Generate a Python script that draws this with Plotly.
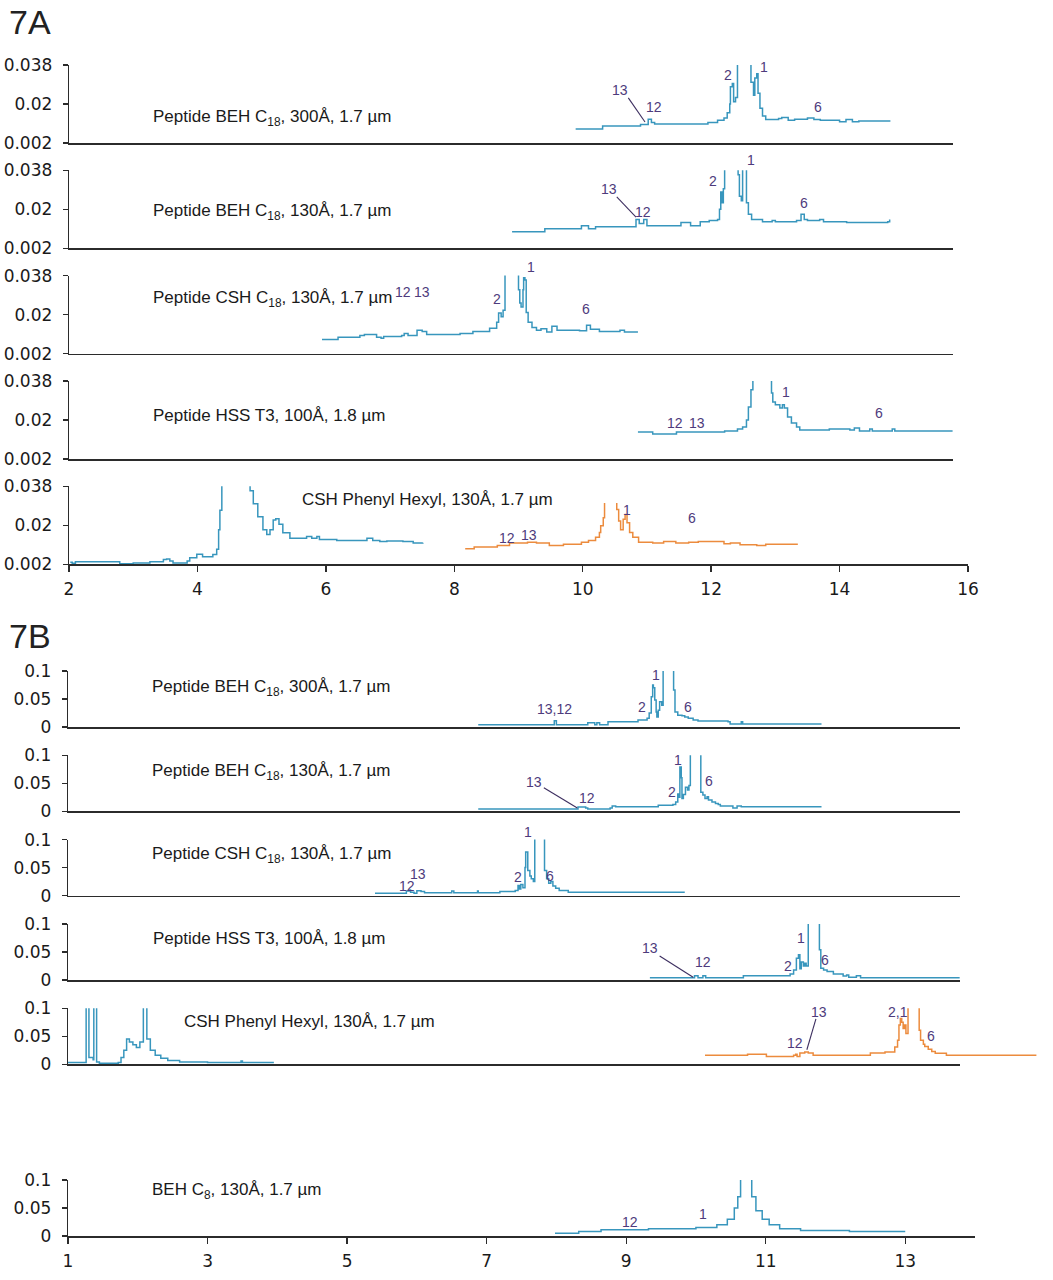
import plotly.graph_objects as go

W, H = 1053, 1280
CYAN = '#3896bd'
ORANGE = '#ec8b3d'
PURPLE = '#4e3b7c'
AXC = '#2b2b2b'
LBL_FONT = dict(family='Liberation Sans, Arial', size=17, color='#1a1a1a')
PK_FONT = dict(family='Liberation Sans, Arial', size=14, color=PURPLE)
TICK_FONT = dict(family='DejaVu Sans, Verdana', size=17, color='#1a1a1a')

# ---------------- 7A data (time min, absorbance AU) ----------------
a1_t = [9.89, 10.31, 10.7, 10.9, 11.02, 11.07, 11.12, 11.8, 11.95, 12.1, 12.2, 12.25, 12.29, 12.3, 12.33, 12.35, 12.38, 12.41, 12.6, 12.62, 12.66, 12.68, 12.71, 12.73, 12.76, 12.8, 12.85, 13.05, 13.1, 13.2, 13.3, 13.5, 13.6, 13.7, 13.8, 14.0, 14.1, 14.2, 14.3, 14.78]
a1_v = [.0085, .0098, .0098, .0105, .013, .0115, .0108, .0108, .0115, .0125, .0135, .016, .020, .028, .0295, .021, .023, .060, .060, .030, .024, .032, .034, .025, .018, .0145, .0128, .0133, .0138, .0125, .0130, .0135, .0128, .0125, .0125, .0118, .0128, .0118, .0122, .0118]

a2_t = [8.90, 9.41, 9.98, 10.09, 10.2, 10.83, 10.88, 10.95, 11.0, 11.53, 11.68, 11.83, 11.97, 12.1, 12.13, 12.15, 12.17, 12.19, 12.21, 12.40, 12.42, 12.44, 12.47, 12.49, 12.53, 12.55, 12.58, 12.63, 12.80, 12.95, 13.0, 13.18, 13.33, 13.4, 13.45, 13.5, 13.69, 13.75, 14.11, 14.75, 14.78]
a2_v = [.0096, .011, .0124, .011, .012, .0153, .0135, .0153, .0124, .0139, .0124, .0142, .0148, .0153, .020, .028, .023, .0295, .06, .06, .036, .026, .024, .06, .06, .023, .0177, .0153, .0143, .0148, .0143, .0143, .0148, .0177, .0153, .0148, .0153, .0143, .0139, .0142, .0153]

a3_t = [5.94, 6.19, 6.53, 6.6, 6.79, 6.86, 6.9, 7.18, 7.22, 7.28, 7.42, 7.5, 7.57, 8.09, 8.29, 8.55, 8.66, 8.69, 8.73, 8.76, 8.79, 8.97, 9.0, 9.02, 9.04, 9.07, 9.08, 9.1, 9.12, 9.15, 9.21, 9.28, 9.35, 9.44, 9.52, 9.6, 9.95, 10.06, 10.12, 10.26, 10.58, 10.65, 10.86]
a3_v = [.0085, .0095, .0104, .0108, .0095, .0091, .0099, .0104, .0113, .0104, .0128, .0122, .0108, .0113, .0122, .0137, .0165, .0207, .019, .022, .06, .06, .0315, .0254, .0235, .0315, .037, .036, .021, .0165, .014, .0128, .0135, .012, .0146, .0128, .0125, .0151, .0132, .0122, .0128, .012, .012]

a4_t = [10.86, 11.09, 11.46, 12.21, 12.41, 12.49, 12.55, 12.58, 12.62, 12.65, 12.91, 12.94, 12.96, 13.0, 13.07, 13.11, 13.14, 13.19, 13.25, 13.33, 13.38, 13.84, 14.16, 14.23, 14.31, 14.47, 14.51, 14.82, 14.86, 15.76]
a4_v = [.0145, .0135, .0145, .0149, .0158, .0168, .020, .026, .034, .06, .06, .0325, .0283, .027, .0255, .027, .0255, .0214, .0186, .0168, .0154, .0158, .0154, .0163, .0149, .0158, .0149, .0158, .0149, .0149]

a5c_t = [2.02, 2.05, 2.1, 2.79, 3.0, 3.26, 3.47, 3.52, 3.57, 3.62, 3.84, 3.88, 3.99, 4.08, 4.24, 4.3, 4.33, 4.35, 4.38, 4.79, 4.82, 4.87, 4.94, 5.02, 5.08, 5.13, 5.18, 5.22, 5.27, 5.33, 5.44, 5.7, 5.78, 5.86, 5.9, 6.17, 6.64, 6.73, 6.84, 6.95, 7.2, 7.36, 7.51]
a5c_v = [.003, .0025, .0032, .0022, .0026, .0032, .0042, .0045, .0035, .0026, .0035, .005, .0066, .0055, .0065, .009, .018, .027, .06, .06, .036, .030, .024, .018, .0157, .018, .0225, .023, .0205, .0166, .014, .0148, .014, .0148, .0134, .013, .014, .013, .0125, .0128, .0125, .0118, .012]

a5o_t = [8.17, 8.31, 8.67, 8.86, 9.14, 9.28, 9.48, 9.70, 9.98, 10.09, 10.2, 10.26, 10.28, 10.32, 10.34, 10.51, 10.53, 10.56, 10.59, 10.63, 10.66, 10.69, 10.73, 10.78, 10.87, 11.09, 11.26, 11.45, 11.65, 11.8, 12.2, 12.3, 12.45, 12.71, 12.85, 13.35]
a5o_v = [.0092, .010, .0107, .0118, .0122, .0118, .0107, .0112, .0122, .013, .0145, .0167, .0198, .0235, .05, .05, .0273, .022, .018, .0228, .025, .0212, .0167, .0145, .0122, .0118, .0125, .0118, .0122, .0125, .0115, .0118, .011, .0107, .0112, .0112]

# ---------------- 7B data ----------------
b1_t = [6.88, 7.94, 7.97, 8.0, 8.45, 8.55, 8.58, 8.62, 8.74, 9.17, 9.3, 9.33, 9.36, 9.38, 9.39, 9.41, 9.43, 9.44, 9.46, 9.48, 9.51, 9.53, 9.66, 9.68, 9.7, 9.74, 9.8, 9.84, 9.89, 9.96, 10.03, 10.46, 10.49, 10.63, 10.65, 10.67, 11.8]
b1_v = [.004, .004, .011, .004, .0077, .004, .0077, .004, .0095, .0125, .0155, .025, .054, .075, .07, .048, .027, .018, .030, .045, .039, .15, .15, .066, .027, .021, .02, .018, .0155, .0125, .0107, .0095, .0054, .0054, .0095, .0054, .0054]

b2_t = [6.88, 8.3, 8.31, 8.42, 8.45, 8.77, 8.8, 8.85, 9.44, 9.46, 9.67, 9.71, 9.74, 9.76, 9.77, 9.79, 9.8, 9.82, 9.85, 9.88, 9.9, 9.92, 10.05, 10.07, 10.1, 10.13, 10.16, 10.18, 10.23, 10.28, 10.32, 10.35, 10.49, 10.53, 10.59, 10.65, 11.8]
b2_v = [.004, .004, .0077, .006, .004, .006, .0095, .008, .008, .0107, .012, .0166, .031, .025, .079, .06, .023, .03, .043, .038, .046, .15, .15, .034, .029, .023, .026, .02, .0166, .014, .012, .0095, .0095, .006, .0095, .008, .008]

b3_t = [5.40, 5.83, 5.85, 5.89, 5.91, 5.96, 6.0, 6.06, 6.11, 6.49, 6.5, 6.53, 6.86, 6.87, 6.88, 7.19, 7.41, 7.45, 7.47, 7.49, 7.52, 7.55, 7.56, 7.59, 7.62, 7.64, 7.67, 7.69, 7.81, 7.83, 7.86, 7.89, 7.92, 7.95, 7.99, 8.04, 8.17, 9.84]
b3_v = [.004, .004, .008, .01, .006, .004, .0085, .0075, .005, .005, .008, .005, .005, .008, .005, .0075, .009, .018, .012, .02, .014, .05, .078, .045, .035, .03, .025, .15, .15, .045, .03, .022, .025, .017, .013, .009, .006, .006]

b4_t = [9.34, 9.96, 9.98, 10.03, 10.1, 10.14, 10.68, 11.35, 11.4, 11.44, 11.47, 11.49, 11.51, 11.54, 11.56, 11.58, 11.61, 11.75, 11.77, 11.79, 11.83, 11.88, 11.97, 12.11, 12.16, 12.19, 12.3, 12.36, 13.78]
b4_v = [.004, .004, .0077, .004, .0077, .004, .0077, .0107, .018, .039, .045, .02, .032, .025, .03, .025, .15, .15, .054, .021, .018, .015, .0107, .007, .0088, .005, .0077, .004, .004]

b5c_t = [1.0, 1.25, 1.26, 1.29, 1.30, 1.36, 1.37, 1.40, 1.41, 1.45, 1.72, 1.76, 1.8, 1.84, 1.88, 1.93, 1.98, 2.03, 2.08, 2.11, 2.13, 2.18, 2.25, 2.33, 2.43, 2.6, 3.0, 3.45, 3.48, 3.5, 3.94]
b5c_v = [.003, .003, .15, .15, .012, .008, .15, .15, .004, .002, .003, .012, .025, .045, .04, .035, .03, .04, .15, .15, .045, .025, .016, .011, .007, .004, .003, .003, .006, .003, .002]

b5o_t = [10.13, 10.74, 11.01, 11.4, 11.43, 11.45, 11.49, 11.56, 11.61, 11.68, 12.5, 12.71, 12.85, 12.89, 12.91, 12.93, 12.95, 12.97, 12.99, 13.01, 13.04, 13.19, 13.2, 13.22, 13.26, 13.28, 13.33, 13.38, 13.43, 13.59, 14.88]
b5o_v = [.016, .018, .014, .016, .018, .014, .02, .022, .02, .016, .02, .022, .031, .043, .07, .082, .075, .064, .07, .055, .15, .15, .061, .043, .036, .032, .027, .023, .0196, .016, .016]

b6_t = [7.98, 8.3, 8.32, 8.62, 8.64, 9.3, 9.32, 9.9, 10.0, 10.3, 10.45, 10.55, 10.6, 10.64, 10.76, 10.8, 10.86, 10.95, 11.05, 11.2, 11.5, 12.2, 13.0]
b6_v = [.005, .005, .008, .008, .011, .011, .013, .013, .015, .02, .03, .05, .07, .15, .15, .07, .045, .03, .02, .013, .01, .008, .008]

# panel labels
labels_a = ['Peptide BEH C<sub>18</sub>, 300Å, 1.7 µm', 'Peptide BEH C<sub>18</sub>, 130Å, 1.7 µm',
            'Peptide CSH C<sub>18</sub>, 130Å, 1.7 µm', 'Peptide HSS T3, 100Å, 1.8 µm',
            'CSH Phenyl Hexyl, 130Å, 1.7 µm']
labels_b = labels_a + ['BEH C<sub>8</sub>, 130Å, 1.7 µm']

# peak labels: (text, time, value)
peaks_a = [
    [('13', 10.58, .0265), ('12', 11.11, .0186), ('2', 12.26, .0334), ('1', 12.82, .0371), ('6', 13.66, .0186)],
    [('13', 10.41, .0294), ('12', 10.94, .0188), ('2', 12.03, .0331), ('1', 12.62, .0428), ('6', 13.45, .0229)],
    [('12', 7.20, .0304), ('13', 7.50, .0304), ('2', 8.67, .0272), ('1', 9.19, .0420), ('6', 10.05, .0226)],
    [('12', 11.44, .0186), ('13', 11.78, .0186), ('1', 13.17, .0329), ('6', 14.61, .0232)],
    [('12', 8.82, .0141), ('13', 9.16, .0155), ('1', 10.69, .0271), ('6', 11.70, .0234)],
]
peaks_b = [
    [('13,12', 7.98, .032), ('2', 9.23, .036), ('1', 9.43, .093), ('6', 9.89, .036)],
    [('13', 7.68, .052), ('12', 8.44, .024), ('2', 9.66, .034), ('1', 9.74, .092), ('6', 10.19, .054)],
    [('12', 5.86, .017), ('13', 6.02, .039), ('2', 7.45, .033), ('1', 7.59, .114), ('6', 7.91, .035)],
    [('13', 9.34, .057), ('12', 10.10, .032), ('2', 11.32, .025), ('1', 11.51, .075), ('6', 11.85, .036)],
    [('12', 11.42, .038), ('13', 11.76, .093), ('2,1', 12.90, .093), ('6', 13.37, .051)],
    [('12', 9.06, .025), ('1', 10.10, .039)],
]
# leader lines: (panel key, from time, from value, to time, to value)
leaders = [('a1', 10.71, .0228, 10.97, .0117), ('a2', 10.53, .0257, 10.83, .0164),
           ('b2', 7.82, .042, 8.30, .006), ('b4', 9.48, .043, 9.96, .005),
           ('b5', 11.72, .081, 11.59, .026)]

# ---------------- layout geometry (pixels) ----------------
def xd(l, r):
    return [l / W, r / W]

def yd(top, bottom):
    return [1 - bottom / H, 1 - top / H]

fig = go.Figure()
layout = dict(width=W, height=H, margin=dict(l=0, r=0, t=0, b=0, autoexpand=False),
              paper_bgcolor='white', plot_bgcolor='rgba(0,0,0,0)', showlegend=False)
annotations = []
shapes = []

A_bottoms = [143, 248.3, 353.6, 459, 564.3]
A_h = 78
A_ppu = 899 / 14.0
B_bottoms = [727, 811.3, 895.6, 980, 1064.3, 1236]
B_h = 56
B_ppu = 907 / 13.0

axis_ids = {}
yinfo = {}

def add_axes(idx, xl, xr, xrange, top, bottom, yrange, yticks, yticktext, bottom_ticks=None):
    xa = dict(domain=xd(xl, xr), range=xrange, anchor='y%d' % idx, showgrid=False, zeroline=False,
              showline=True, linecolor=AXC, linewidth=1.5, fixedrange=True, automargin=False)
    if bottom_ticks is None:
        xa.update(ticks='', showticklabels=False)
    else:
        xa.update(tickmode='array', tickvals=bottom_ticks, ticktext=[str(v) for v in bottom_ticks],
                  ticks='outside', ticklen=6, tickwidth=1.3, tickcolor=AXC, tickfont=TICK_FONT,
                  ticklabelstandoff=3)
    ya = dict(domain=yd(top, bottom), range=yrange, anchor='x%d' % idx, showgrid=False, zeroline=False,
              showline=True, linecolor=AXC, linewidth=1.3, ticks='outside', ticklen=5, tickwidth=1.3,
              tickcolor=AXC, tickmode='array', tickvals=yticks, ticktext=yticktext, tickfont=TICK_FONT,
              ticklabelstandoff=7, fixedrange=True, automargin=False)
    layout['xaxis%d' % idx] = xa
    layout['yaxis%d' % idx] = ya
    yinfo[idx] = (yrange[1], (bottom - top) / (yrange[1] - yrange[0]))

# 7A panels 1..5
A_series = [[(a1_t, a1_v, CYAN)], [(a2_t, a2_v, CYAN)], [(a3_t, a3_v, CYAN)], [(a4_t, a4_v, CYAN)],
            [(a5c_t, a5c_v, CYAN)]]
for i in range(5):
    idx = i + 1
    b = A_bottoms[i]
    xr_px = 968 if i == 4 else 953
    add_axes(idx, 69, xr_px, [2, 2 + (xr_px - 69) / A_ppu], b - A_h, b, [0.002, 0.038],
             [0.002, 0.02, 0.038], ['0.002', '0.02', '0.038'],
             bottom_ticks=[2, 4, 6, 8, 10, 12, 14, 16] if i == 4 else None)
    axis_ids['a%d' % idx] = idx
    for (t, v, c) in A_series[i]:
        fig.add_trace(go.Scatter(x=t, y=v, mode='lines', line=dict(color=c, width=1.5, shape='hv'),
                                 xaxis='x%d' % idx, yaxis='y%d' % idx, hoverinfo='skip'))

# 7B panels 6..11
B_series = [[(b1_t, b1_v, CYAN)], [(b2_t, b2_v, CYAN)], [(b3_t, b3_v, CYAN)], [(b4_t, b4_v, CYAN)],
            [(b5c_t, b5c_v, CYAN)], [(b6_t, b6_v, CYAN)]]
for i in range(6):
    idx = i + 6
    b = B_bottoms[i]
    xr_px = 975 if i == 5 else 960
    add_axes(idx, 68, xr_px, [1, 1 + (xr_px - 68) / B_ppu], b - B_h, b, [0, 0.1],
             [0, 0.05, 0.1], ['0', '0.05', '0.1'],
             bottom_ticks=[1, 3, 5, 7, 9, 11, 13] if i == 5 else None)
    axis_ids['b%d' % (i + 1)] = idx
    for (t, v, c) in B_series[i]:
        fig.add_trace(go.Scatter(x=t, y=v, mode='lines', line=dict(color=c, width=1.5, shape='hv'),
                                 xaxis='x%d' % idx, yaxis='y%d' % idx, hoverinfo='skip'))

# overlay axes for the orange traces (same scale, separate clipping windows)
ov = dict(showgrid=False, zeroline=False, visible=False, fixedrange=True, automargin=False)
b5 = A_bottoms[4]
layout['xaxis12'] = dict(domain=xd(69, 968), range=[2, 16], anchor='y12', **ov)
layout['yaxis12'] = dict(domain=yd(503, b5), range=[0.002, 0.002 + (b5 - 503) * 0.036 / A_h], anchor='x12', **ov)
fig.add_trace(go.Scatter(x=a5o_t, y=a5o_v, mode='lines', line=dict(color=ORANGE, width=1.5, shape='hv'),
                         xaxis='x12', yaxis='y12', hoverinfo='skip'))
bb5 = B_bottoms[4]
layout['xaxis13'] = dict(domain=xd(68, 1040), range=[1, 1 + (1040 - 68) / B_ppu], anchor='y13', **ov)
layout['yaxis13'] = dict(domain=yd(bb5 - B_h, bb5), range=[0, 0.1], anchor='x13', **ov)
fig.add_trace(go.Scatter(x=b5o_t, y=b5o_v, mode='lines', line=dict(color=ORANGE, width=1.5, shape='hv'),
                         xaxis='x13', yaxis='y13', hoverinfo='skip'))

def place(idx, t, v):
    """Keep annotation anchors inside the axis range (plotly hides out-of-range refs)."""
    vmax, ppu = yinfo[idx]
    if v > vmax:
        return vmax * 0.999, (v - vmax) * ppu
    return v, 0

# panel labels
lab_pos_a = [(3.28, .0135), (3.28, .0188), (3.28, .0272), (3.28, .0223), (5.60, .0321)]
for i, txt in enumerate(labels_a):
    idx = i + 1
    annotations.append(dict(text=txt, x=lab_pos_a[i][0], y=lab_pos_a[i][1], xref='x%d' % idx, yref='y%d' % idx,
                            xanchor='left', yanchor='middle', showarrow=False, font=LBL_FONT))
lab_pos_b = [(2.18, .070), (2.18, .070), (2.18, .073), (2.19, .075), (2.63, .076), (2.18, .080)]
for i, txt in enumerate(labels_b):
    idx = i + 6
    annotations.append(dict(text=txt, x=lab_pos_b[i][0], y=lab_pos_b[i][1], xref='x%d' % idx, yref='y%d' % idx,
                            xanchor='left', yanchor='middle', showarrow=False, font=LBL_FONT))

for base, plists in ((1, peaks_a), (6, peaks_b)):
    for i, plist in enumerate(plists):
        idx = base + i
        for (txt, t, v) in plist:
            yy, ys = place(idx, t, v)
            annotations.append(dict(text=txt, x=t, y=yy, yshift=ys, xref='x%d' % idx, yref='y%d' % idx,
                                    xanchor='center', yanchor='middle', showarrow=False, font=PK_FONT))

for (key, t0, v0, t1, v1) in leaders:
    idx = axis_ids[key]
    shapes.append(dict(type='line', x0=t0, y0=v0, x1=t1, y1=v1, xref='x%d' % idx, yref='y%d' % idx,
                       line=dict(color='#3d2f60', width=1.1)))

# figure titles
TFONT = dict(family='Liberation Sans, Arial', size=34, color='#222')
annotations.append(dict(text='7A', x=7 / W, y=1 - 22 / H, xref='paper', yref='paper',
                        xanchor='left', yanchor='middle', showarrow=False, font=TFONT))
annotations.append(dict(text='7B', x=7 / W, y=1 - 636 / H, xref='paper', yref='paper',
                        xanchor='left', yanchor='middle', showarrow=False, font=TFONT))

layout['annotations'] = annotations
layout['shapes'] = shapes
fig.update_layout(**layout)
# remove the browser's default 8px body margin so the figure sits at the page origin
fig.write_html('out.html', config={'displayModeBar': False, 'staticPlot': True},
               post_script="document.body.style.margin='0px';")
